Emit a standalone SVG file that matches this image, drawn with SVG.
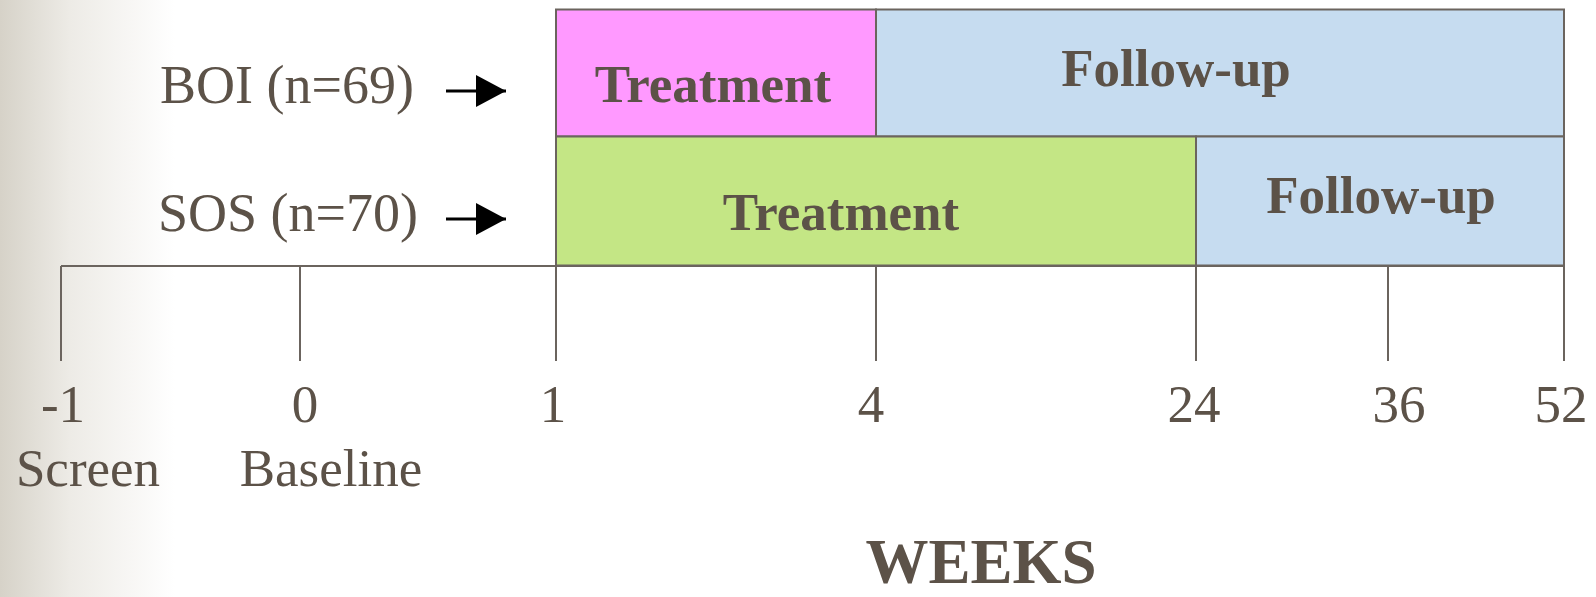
<svg xmlns="http://www.w3.org/2000/svg" width="1596" height="597" viewBox="0 0 1596 597">
  <defs>
    <linearGradient id="bg" x1="0" y1="0" x2="1" y2="0">
      <stop offset="0" stop-color="#d6d2c8"/>
      <stop offset="0.4" stop-color="#edebe6"/>
      <stop offset="1" stop-color="#ffffff"/>
    </linearGradient>
    <marker id="ah" viewBox="0 0 30 32" refX="30" refY="16" markerWidth="30" markerHeight="32" markerUnits="userSpaceOnUse" orient="auto">
      <path d="M0,0 L30,16 L0,32 Z" fill="#000"/>
    </marker>
  </defs>
  <style>
    .box { stroke: #6b645e; stroke-width: 2; }
    .lab { font-family: "Liberation Serif", "Times New Roman", serif; fill: #5c5248; }
    .bold { font-weight: bold; }
    .axis { stroke: #6b645e; stroke-width: 2; fill: none; }
    .arr { stroke: #000; stroke-width: 3; }
  </style>
  <rect x="0" y="0" width="1596" height="597" fill="#ffffff"/>
  <rect x="0" y="0" width="175" height="597" fill="url(#bg)"/>

  <g id="axis">
    <line class="axis" x1="61" y1="266" x2="1565" y2="266"/>
    <line class="axis" x1="61" y1="266" x2="61" y2="361"/>
    <line class="axis" x1="300" y1="266" x2="300" y2="361"/>
    <line class="axis" x1="556" y1="266" x2="556" y2="361"/>
    <line class="axis" x1="876" y1="266" x2="876" y2="361"/>
    <line class="axis" x1="1196" y1="266" x2="1196" y2="361"/>
    <line class="axis" x1="1388" y1="266" x2="1388" y2="361"/>
    <line class="axis" x1="1564" y1="266" x2="1564" y2="361"/>
  </g>

  <g id="boi-treatment">
    <rect class="box" x="556" y="9.5" width="320" height="127" fill="#ff99ff"/>
    <text class="lab bold" x="713" y="102" font-size="53" text-anchor="middle">Treatment</text>
  </g>
  <g id="boi-followup">
    <rect class="box" x="876" y="9.5" width="688" height="127" fill="#c6dcf0"/>
    <text class="lab bold" x="1176" y="86" font-size="53" text-anchor="middle">Follow-up</text>
  </g>
  <g id="sos-treatment">
    <rect class="box" x="556" y="136.5" width="640" height="129" fill="#c4e685"/>
    <text class="lab bold" x="841" y="230" font-size="53" text-anchor="middle">Treatment</text>
  </g>
  <g id="sos-followup">
    <rect class="box" x="1196" y="136.5" width="368" height="129" fill="#c6dcf0"/>
    <text class="lab bold" x="1381" y="213" font-size="53" text-anchor="middle">Follow-up</text>
  </g>

  <g id="boi-label">
    <text class="lab" x="160" y="103" font-size="54">BOI (n=69)</text>
  </g>
  <g id="sos-label">
    <text class="lab" x="158" y="231" font-size="54">SOS (n=70)</text>
  </g>

  <g id="connectors">
    <line class="arr" x1="446" y1="91" x2="506" y2="91" marker-end="url(#ah)"/>
    <line class="arr" x1="446" y1="219" x2="506" y2="219" marker-end="url(#ah)"/>
  </g>

  <g id="ticks">
    <text class="lab" x="63" y="422" font-size="53" text-anchor="middle">-1</text>
    <text class="lab" x="305" y="422" font-size="53" text-anchor="middle">0</text>
    <text class="lab" x="553" y="422" font-size="53" text-anchor="middle">1</text>
    <text class="lab" x="871" y="422" font-size="53" text-anchor="middle">4</text>
    <text class="lab" x="1194" y="422" font-size="53" text-anchor="middle">24</text>
    <text class="lab" x="1399" y="422" font-size="53" text-anchor="middle">36</text>
    <text class="lab" x="1561" y="422" font-size="53" text-anchor="middle">52</text>
    <text class="lab" x="88" y="486" font-size="53" text-anchor="middle">Screen</text>
    <text class="lab" x="331" y="486" font-size="53" text-anchor="middle">Baseline</text>
  </g>

  <g id="weeks">
    <text class="lab bold" x="981" y="583" font-size="63" text-anchor="middle">WEEKS</text>
  </g>
</svg>
